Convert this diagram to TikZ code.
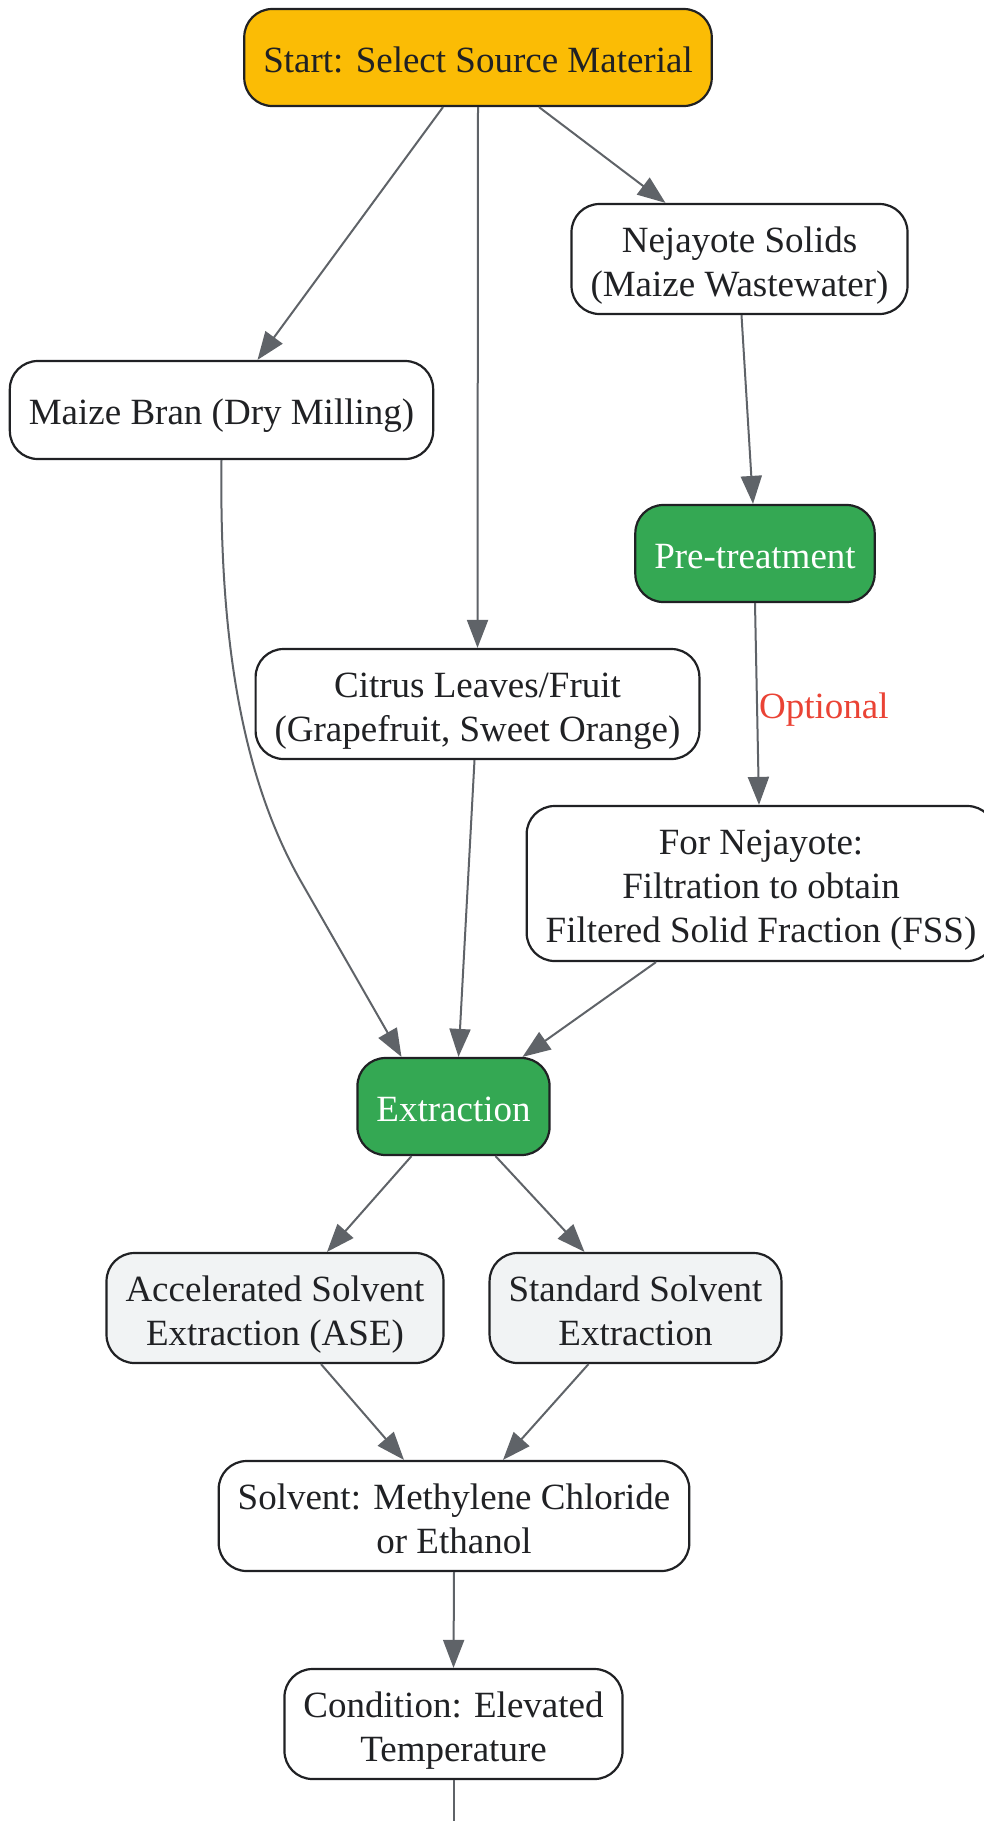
\documentclass[tikz,border=0pt]{standalone}
\usepackage{fontspec}
\setmainfont{Liberation Serif}
\usetikzlibrary{arrows.meta}
\definecolor{ink}{HTML}{202124}
\definecolor{edgegray}{HTML}{5F6368}
\definecolor{startyellow}{HTML}{FBBC05}
\definecolor{stepgreen}{HTML}{34A853}
\definecolor{methodgray}{HTML}{F1F3F4}
\definecolor{notered}{HTML}{EA4335}
\newcommand{\boxtop}{\rule{0pt}{38pt}}
\begin{document}
\begin{tikzpicture}[x=1pt, y=-1pt,
    box/.style={draw=ink, line width=2.2pt, rounded corners=28pt, fill=white, text=ink,
      align=center, inner xsep=19pt, inner ysep=0pt, minimum height=110pt,
      font=\fontsize{37}{44}\selectfont,
      execute at end node={\rule[-8pt]{0pt}{8pt}}},
    oneline/.style={minimum height=97pt, execute at begin node={\rule{0pt}{37.5pt}}},
    startbox/.style={box, oneline, fill=startyellow},
    stepbox/.style={box, oneline, fill=stepgreen, text=white},
    methodbox/.style={box, fill=methodgray},
    flow/.style={draw=edgegray, line width=2pt, -{Triangle[length=28pt,width=21pt]}}]
      \useasboundingbox (0,0) rectangle (984,1821);

      \node[startbox] (st) at (478,57.5) {Start: Select Source Material};
      \node[box] (ne) at (739.5,259) {\boxtop Nejayote Solids\\(Maize Wastewater)};
      \node[box, oneline, minimum height=98pt] (mb) at (221.5,410) {Maize Bran (Dry Milling)};
      \node[stepbox] (pt) at (755,553.5) {Pre-treatment};
      \node[box] (ci) at (477.5,704) {\boxtop Citrus Leaves/Fruit\\(Grapefruit, Sweet Orange)};
      \node[box, minimum height=155pt] (fs) at (761,883.5) {\boxtop For Nejayote:\\Filtration to obtain\\Filtered Solid Fraction (FSS)};
      \node[stepbox] (ex) at (453.5,1106.5) {Extraction};
      \node[methodbox] (as) at (275,1308) {\boxtop Accelerated Solvent\\Extraction (ASE)};
      \node[methodbox] (ss) at (635.5,1308) {\boxtop Standard Solvent\\Extraction};
      \node[box] (so) at (454,1516) {\boxtop Solvent: Methylene Chloride\\or Ethanol};
      \node[box] (co) at (453.5,1724) {\boxtop Condition: Elevated\\Temperature};
      \coordinate (out) at (453.5,1830);

      \draw[flow] ([xshift=-35pt]st.south) -- ([xshift=36pt]mb.north);
      \draw[flow] (st.south) -- (ci.north);
      \draw[flow] ([xshift=61pt]st.south) -- ([xshift=-74pt]ne.north);
      \draw[flow] ([xshift=2pt]ne.south) -- ([xshift=-2pt]pt.north);
      \draw[flow] (pt.south) -- node[right, pos=0.53, inner sep=1pt, text=notered,
        font=\fontsize{37}{44}\selectfont] {Optional} ([xshift=-2pt]fs.north);
      \draw[flow] (mb.south) .. controls (219,650) and (245,785) .. (303,885)
        -- ([xshift=-52pt]ex.north);
      \draw[flow] ([xshift=-3pt]ci.south) -- ([xshift=5pt]ex.north);
      \draw[flow] ([xshift=-105pt]fs.south) -- ([xshift=69pt]ex.north);
      \draw[flow] ([xshift=-42pt]ex.south) -- ([xshift=52pt]as.north);
      \draw[flow] ([xshift=42pt]ex.south) -- ([xshift=-51pt]ss.north);
      \draw[flow] ([xshift=46pt]as.south) -- ([xshift=-50pt]so.north);
      \draw[flow] ([xshift=-47pt]ss.south) -- ([xshift=49pt]so.north);
      \draw[flow] (so.south) -- (co.north);
      \draw[draw=edgegray, line width=2pt] (co.south) -- (out);
    \end{tikzpicture}
\end{document}
